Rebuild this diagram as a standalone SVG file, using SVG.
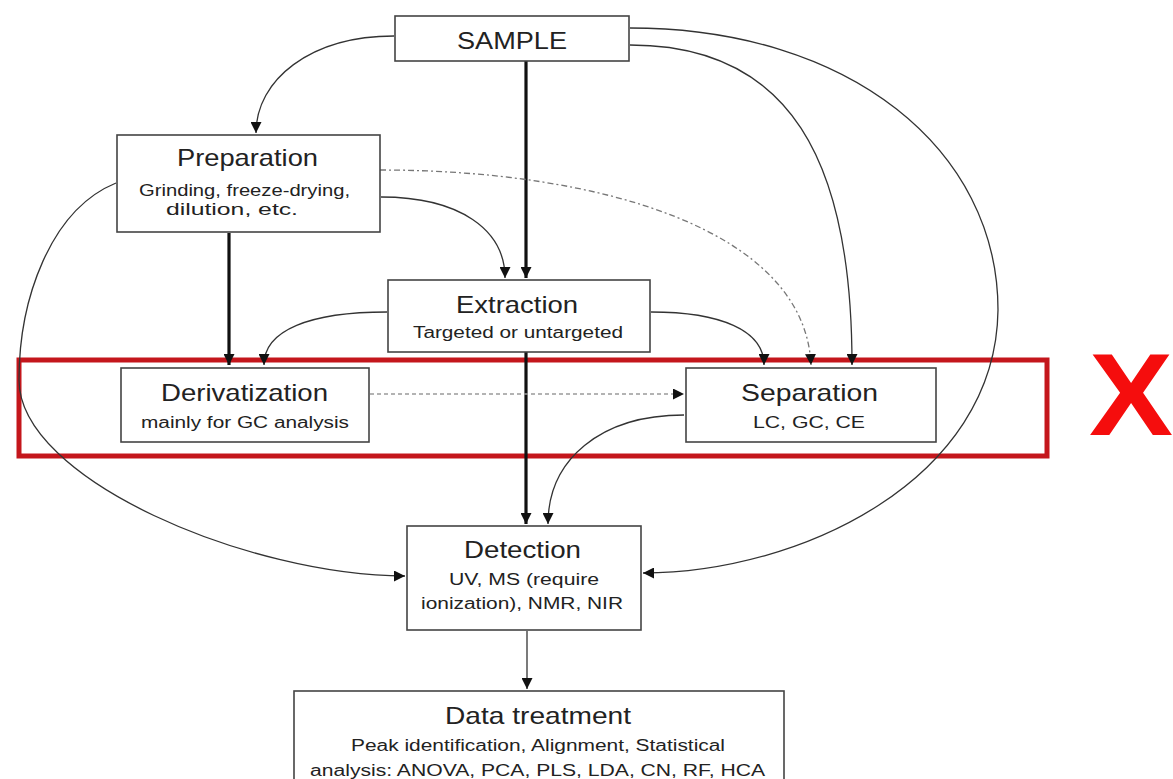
<svg xmlns="http://www.w3.org/2000/svg" width="1173" height="779" viewBox="0 0 1173 779">
  <style>
    .box { fill: #ffffff; stroke: #444444; stroke-width: 1.6; }
    .title { font-family: "Liberation Sans", Arial, sans-serif; font-size: 24px; fill: #222222; text-anchor: start; }
    .sub { font-family: "Liberation Sans", Arial, sans-serif; font-size: 16px; fill: #222222; text-anchor: start; }
    .thin { fill: none; stroke: #333333; stroke-width: 1.3; }
    .thick { fill: none; stroke: #111111; stroke-width: 3.2; }
    .dashed { fill: none; stroke: #777777; stroke-width: 1.3; stroke-dasharray: 6 3 2 3; }
    .dotted { fill: none; stroke: #9a9a9a; stroke-width: 1.3; stroke-dasharray: 4 3; }
  </style>
  <defs>
    <marker id="arrow" viewBox="0 0 10 10" refX="10" refY="5" markerWidth="11" markerHeight="11" markerUnits="userSpaceOnUse" orient="auto">
      <path d="M0,0 L10,5 L0,10 z" fill="#111111"/>
    </marker>
  </defs>

  <rect width="1173" height="779" fill="#ffffff"/>

  <!-- highlight band around derivatization / separation -->
  <rect id="highlight" x="19" y="360" width="1028" height="96" fill="none" stroke="#c4161c" stroke-width="5"/>
  <text id="cross" x="1089" y="435" font-family="Liberation Sans, Arial, sans-serif" font-weight="bold" font-size="116" fill="#f50d0d" textLength="84" lengthAdjust="spacingAndGlyphs">X</text>

  <!-- connectors -->
  <g id="connectors">
    <path class="thin" d="M394,36 C310,36 256,80 256,133" marker-end="url(#arrow)"/>
    <path class="thick" d="M526,61 L526,278" marker-end="url(#arrow)"/>
    <path class="thin" d="M381,197 C460,197 505,230 505,278" marker-end="url(#arrow)"/>
    <path class="dashed" d="M380,170 C600,170 805,230 811,365" marker-end="url(#arrow)"/>
    <path class="thin" d="M630,28 C850,28 998,150 998,310 C996,480 800,573 643,573" marker-end="url(#arrow)"/>
    <path class="thin" d="M630,45 C790,45 852,160 852,365" marker-end="url(#arrow)"/>
    <path class="thick" d="M229,233 L229,365" marker-end="url(#arrow)"/>
    <path class="thin" d="M387,312 C310,312 264,330 264,365" marker-end="url(#arrow)"/>
    <path class="thin" d="M651,312 C720,312 764,330 764,365" marker-end="url(#arrow)"/>
    <path class="thick" d="M526,352 L526,524" marker-end="url(#arrow)"/>
    <path class="dotted" d="M370,394 L684,394" marker-end="url(#arrow)"/>
    <path class="thin" d="M684,415 C600,415 548,460 548,524" marker-end="url(#arrow)"/>
    <path class="thin" d="M116,183 C50,210 19,300 19,380 C19,480 250,576 405,576" marker-end="url(#arrow)"/>
    <path class="thin" d="M527,631 L527,689" marker-end="url(#arrow)"/>
  </g>

  <g id="sample">
    <rect class="box" x="395" y="16" width="234" height="45"/>
    <text class="title" x="457" y="49" font-size="27" textLength="110" lengthAdjust="spacingAndGlyphs">SAMPLE</text>
  </g>

  <g id="preparation">
    <rect class="box" x="117" y="135" width="263" height="97"/>
    <text class="title" x="177" y="166" textLength="141" lengthAdjust="spacingAndGlyphs">Preparation</text>
    <text class="sub" x="139" y="196" textLength="211" lengthAdjust="spacingAndGlyphs">Grinding, freeze-drying,</text>
    <text class="sub" x="166" y="215" textLength="132" lengthAdjust="spacingAndGlyphs">dilution, etc.</text>
  </g>

  <g id="extraction">
    <rect class="box" x="388" y="280" width="262" height="72"/>
    <text class="title" x="456" y="313" textLength="122" lengthAdjust="spacingAndGlyphs">Extraction</text>
    <text class="sub" x="413" y="338" textLength="210" lengthAdjust="spacingAndGlyphs">Targeted or untargeted</text>
  </g>

  <g id="derivatization">
    <rect class="box" x="121" y="368" width="248" height="74"/>
    <text class="title" x="161" y="401" textLength="167" lengthAdjust="spacingAndGlyphs">Derivatization</text>
    <text class="sub" x="141" y="428" textLength="208" lengthAdjust="spacingAndGlyphs">mainly for GC analysis</text>
  </g>

  <g id="separation">
    <rect class="box" x="686" y="368" width="250" height="74"/>
    <text class="title" x="741" y="401" textLength="137" lengthAdjust="spacingAndGlyphs">Separation</text>
    <text class="sub" x="753" y="428" textLength="112" lengthAdjust="spacingAndGlyphs">LC, GC, CE</text>
  </g>

  <g id="detection">
    <rect class="box" x="407" y="526" width="234" height="104"/>
    <text class="title" x="464" y="558" textLength="117" lengthAdjust="spacingAndGlyphs">Detection</text>
    <text class="sub" x="449" y="585" textLength="150" lengthAdjust="spacingAndGlyphs">UV, MS (require</text>
    <text class="sub" x="421" y="609" textLength="202" lengthAdjust="spacingAndGlyphs">ionization), NMR, NIR</text>
  </g>

  <g id="data-treatment">
    <rect class="box" x="294" y="691" width="490" height="100"/>
    <text class="title" x="445" y="724" textLength="186" lengthAdjust="spacingAndGlyphs">Data treatment</text>
    <text class="sub" x="351" y="751" textLength="374" lengthAdjust="spacingAndGlyphs">Peak identification, Alignment, Statistical</text>
    <text class="sub" x="310" y="776" textLength="455" lengthAdjust="spacingAndGlyphs">analysis: ANOVA, PCA, PLS, LDA, CN, RF, HCA</text>
  </g>
</svg>
